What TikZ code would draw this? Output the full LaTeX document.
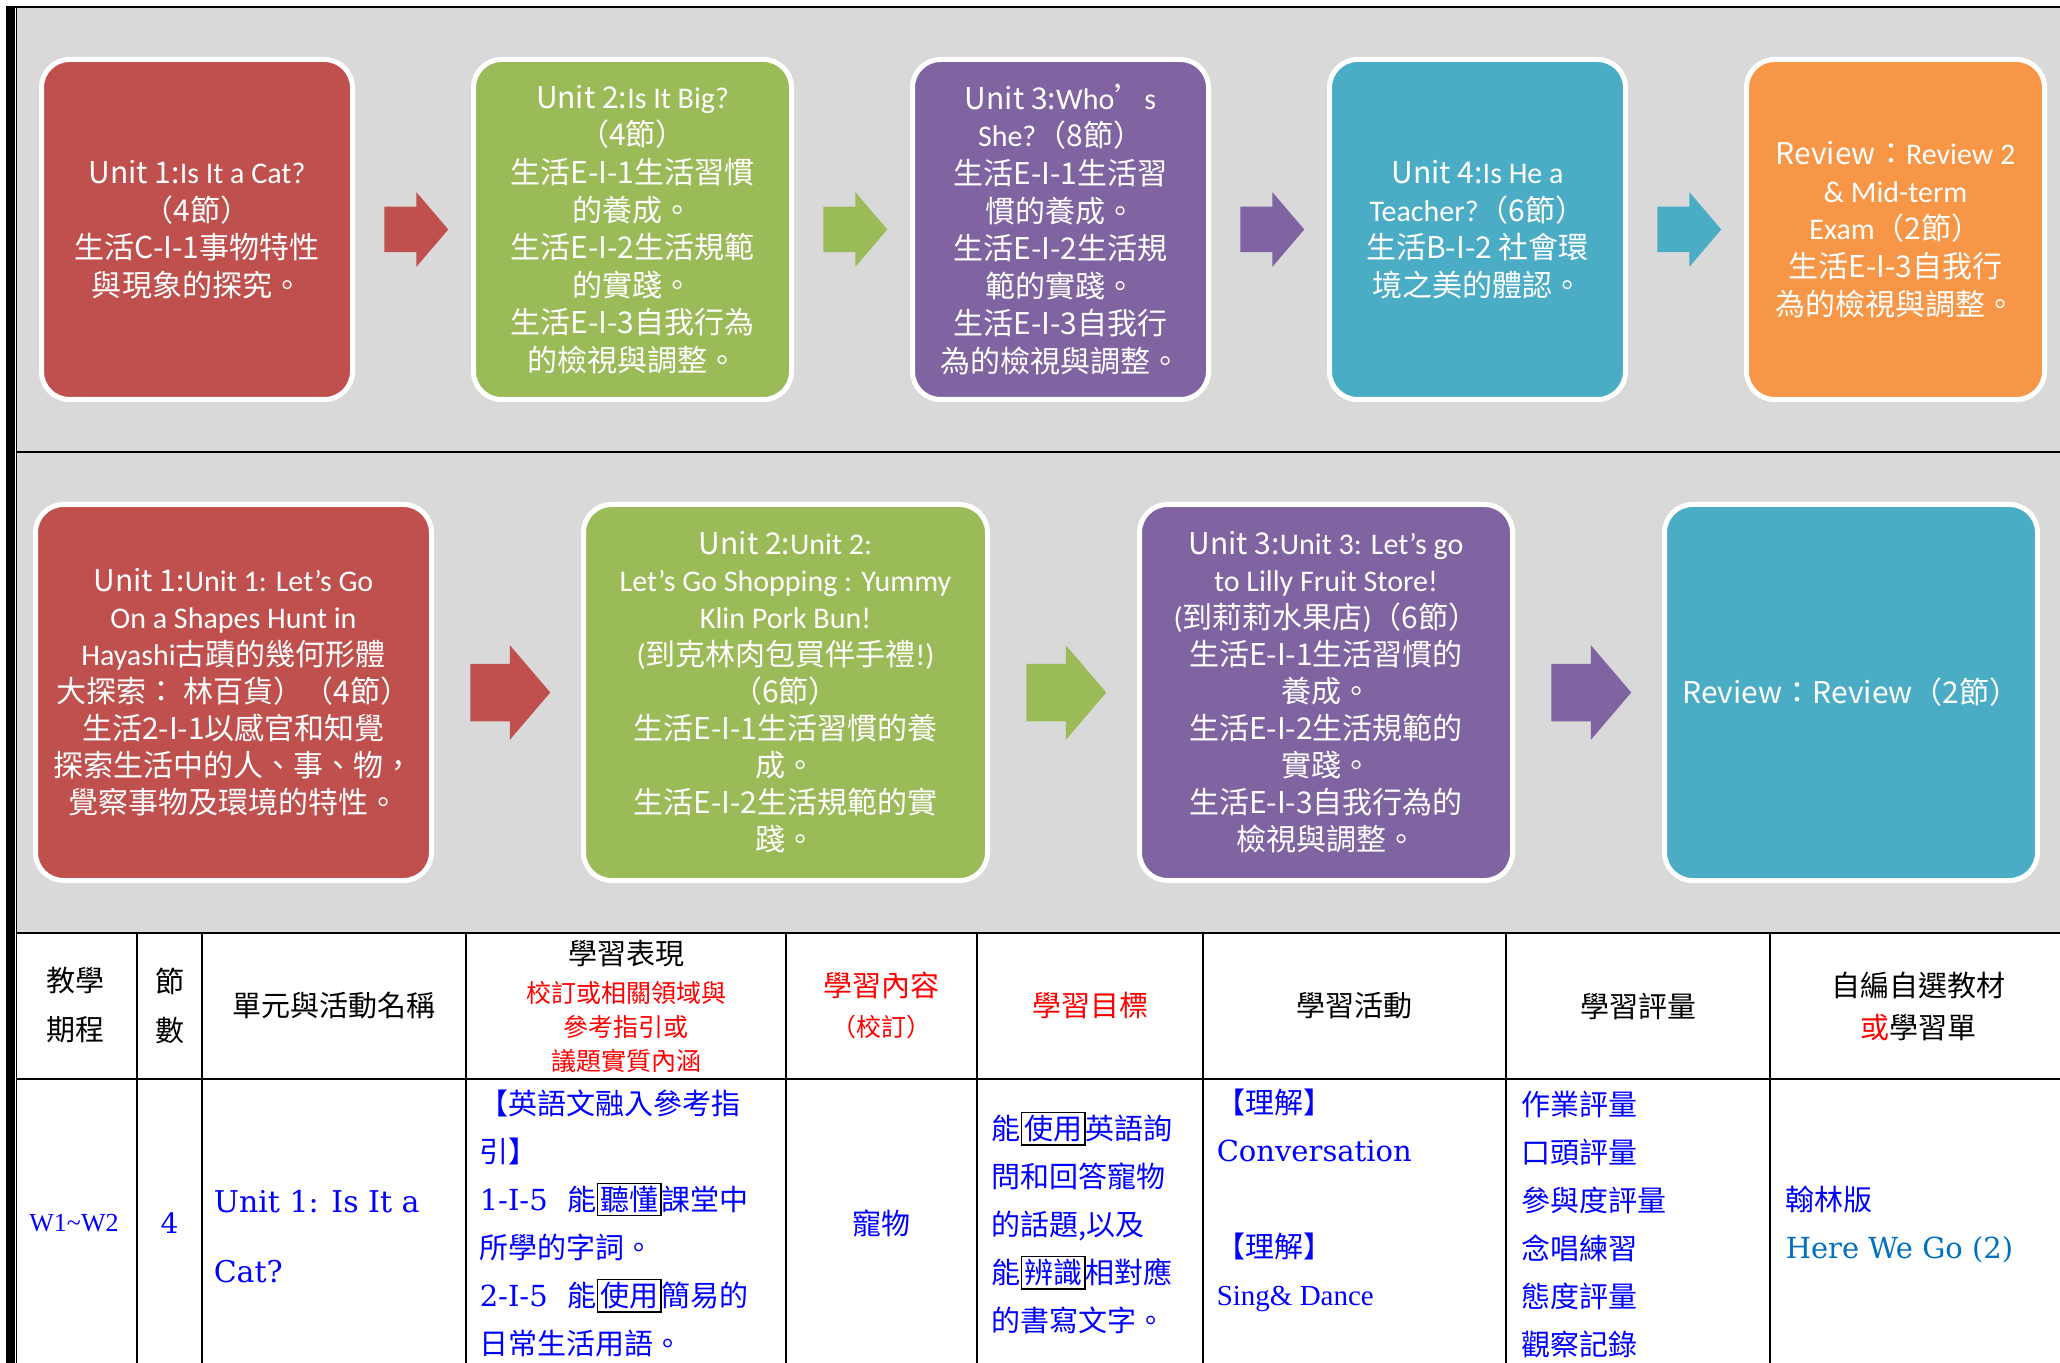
\documentclass[tikz,border=0pt]{standalone}
\usepackage{fontspec}
\setmainfont{Noto Sans CJK TC}
\newfontfamily\calibri{Carlito}
\newfontfamily\mingserif{DejaVu Serif}
\newfontfamily\timesfont{Liberation Serif}
\usetikzlibrary{positioning, calc, shapes.arrows}

\definecolor{unitred}{HTML}{C0504D}
\definecolor{unitgreen}{HTML}{9BBB59}
\definecolor{unitpurple}{HTML}{8064A2}
\definecolor{unitblue}{HTML}{4BACC6}
\definecolor{unitorange}{HTML}{F79646}
\definecolor{panelgray}{HTML}{D9D9D9}
\definecolor{txtblue}{HTML}{0000FF}
\definecolor{txtred}{HTML}{FF0000}
\definecolor{bookblue}{HTML}{0070C0}

% boxed key word inside the table
\newcommand{\kw}[1]{{\setlength{\fboxsep}{1pt}\setlength{\fboxrule}{0.8pt}\color{black}\fbox{\color{txtblue}#1}}}

\begin{document}
\begin{tikzpicture}[
    x=0.5pt, y=-0.5pt,
    line width=0.75pt,
    unitbox/.style={draw=white, line width=2.5pt, rounded corners=14pt, text=white,
                    align=center, inner sep=0pt, minimum height=170pt,
                    font=\fontsize{15pt}{18.8pt}\selectfont},
    bigbox/.style={unitbox, minimum height=188pt,
                   font=\fontsize{15pt}{18.5pt}\selectfont},
    flow/.style={single arrow, draw=none, anchor=tail, inner xsep=0pt, inner ysep=11pt,
                 minimum height=32pt, minimum width=0pt,
                 single arrow head extend=7.25pt, single arrow tip angle=99},
    bigflow/.style={flow, inner ysep=14pt, minimum height=40pt,
                    single arrow head extend=9.25pt},
    head/.style={align=center, inner sep=0pt, font=\fontsize{14.5pt}{24.5pt}\selectfont},
    cell/.style={anchor=west, align=left, text=txtblue, inner sep=0pt,
                 font=\fontsize{14.5pt}{24pt}\selectfont}
]
\useasboundingbox (0,0) rectangle (2060,1363);

% 0) Page frame and gray panel.
\fill[white] (0,0) rectangle (2060,1363);
\fill[panelgray] (17,7) rectangle (2060,933);
\draw (6,7) -- (2060,7);
\fill[black] (6,7) rectangle (14.5,1363);
\draw[line width=0.5pt] (16.5,7) -- (16.5,1363);
\draw (17,452) -- (2060,452);

% 1) First semester units.
\node[unitbox, fill=unitred, minimum width=155.5pt] (u1) at (197,229.5)
   {Unit 1:{\calibri Is It a Cat?}\\（4節）\\生活C-I-1事物特性\\與現象的探究。};
\node[unitbox, fill=unitgreen, minimum width=159pt, right=58pt of u1] (u2)
   {Unit 2:{\calibri Is It Big?}\\（4節）\\生活E-I-1生活習慣\\的養成。\\生活E-I-2生活規範\\的實踐。\\生活E-I-3自我行為\\的檢視與調整。};
\node[unitbox, fill=unitpurple, minimum width=148pt, right=58pt of u2] (u3)
   {Unit 3:{\calibri Who}’{\calibri s}\\{\calibri She?}（8節）\\生活E-I-1生活習\\慣的養成。\\生活E-I-2生活規\\範的實踐。\\生活E-I-3自我行\\為的檢視與調整。};
\node[unitbox, fill=unitblue, minimum width=148pt, right=58pt of u3] (u4)
   {Unit 4:{\calibri Is He a}\\{\calibri Teacher?}（6節）\\生活B-I-2 社會環\\境之美的體認。};
\node[unitbox, fill=unitorange, minimum width=149pt, right=58pt of u4] (u5)
   {Review：{\calibri Review 2}\\{\calibri \& Mid-term}\\{\calibri Exam}（2節）\\生活E-I-3自我行\\為的檢視與調整。};

% Block arrows between the units.
\node[flow, fill=unitred]    (a12) at ($(u1.east)!0.5!(u2.west)+(-29.5,0)$) {};
\node[flow, fill=unitgreen]  (a23) at ($(u2.east)!0.5!(u3.west)+(-29.5,0)$) {};
\node[flow, fill=unitpurple] (a34) at ($(u3.east)!0.5!(u4.west)+(-29.5,0)$) {};
\node[flow, fill=unitblue]   (a45) at ($(u4.east)!0.5!(u5.west)+(-29.5,0)$) {};

% 2) Second semester units.
\node[bigbox, fill=unitred, minimum width=198pt] (v1) at (233.5,692.5)
   {Unit 1:{\calibri Unit 1: Let’s Go}\\{\calibri On a Shapes Hunt in}\\{\calibri Hayashi}古蹟的幾何形體\\大探索： 林百貨）（4節）\\生活2-I-1以感官和知覺\\探索生活中的人、事、物，\\覺察事物及環境的特性。};
\node[bigbox, fill=unitgreen, minimum width=202pt, right=73.5pt of v1] (v2)
   {Unit 2:{\calibri Unit 2:}\\{\calibri Let’s Go Shopping : Yummy}\\{\calibri Klin Pork Bun!}\\{\calibri (}到克林肉包買伴手禮{\calibri !)}\\（6節）\\生活E-I-1生活習慣的養\\成。\\生活E-I-2生活規範的實\\踐。};
\node[bigbox, fill=unitpurple, minimum width=186.5pt, right=73.5pt of v2] (v3)
   {Unit 3:{\calibri Unit 3: Let’s go}\\{\calibri to Lilly Fruit Store!}\\{\calibri (}到莉莉水果店{\calibri )}（6節）\\生活E-I-1生活習慣的\\養成。\\生活E-I-2生活規範的\\實踐。\\生活E-I-3自我行為的\\檢視與調整。};
\node[bigbox, fill=unitblue, minimum width=186.5pt, right=73.5pt of v3] (v4)
   {Review：Review（2節）};

\node[bigflow, fill=unitred]    (b12) at ($(v1.east)!0.5!(v2.west)+(-38,0)$) {};
\node[bigflow, fill=unitgreen]  (b23) at ($(v2.east)!0.5!(v3.west)+(-38,0)$) {};
\node[bigflow, fill=unitpurple] (b34) at ($(v3.east)!0.5!(v4.west)+(-38,0)$) {};

% 3) Table grid.
\draw (17,933) -- (2060,933);
\draw (17,1079) -- (2060,1079);
\foreach \cx in {137,202,466,786,977,1203,1506,1770} {
    \draw (\cx,933) -- (\cx,1363);
}

% Header row.
\node[head] (h1) at (75.5,1005.5) {教學\\期程};
\node[head] (h2) at (169.5,1005.5) {節\\數};
\node[head] (h3) at (334,1006) {單元與活動名稱};
\node[head] (h4) at (626,954) {學習表現};
\node[head, text=txtred, font=\fontsize{12.5pt}{17pt}\selectfont] (h4b) at (626,1027)
   {校訂或相關領域與\\參考指引或\\議題實質內涵};
\node[head, text=txtred] (h5) at (881.5,985) {學習內容};
\node[head, text=txtred, font=\fontsize{12.5pt}{17pt}\selectfont] (h5b) at (881.5,1027) {（校訂）};
\node[head, text=txtred] (h6) at (1090,1006) {學習目標};
\node[head] (h7) at (1354.5,1006) {學習活動};
\node[head] (h8) at (1638,1006) {學習評量};
\node[head, font=\fontsize{14.5pt}{21pt}\selectfont] (h9) at (1918,1006)
   {自編自選教材\\{\color{txtred}或}學習單};

% First body row.
\node[cell, anchor=center, font=\timesfont\fontsize{13pt}{24pt}\selectfont] (week) at (74,1223) {W1\textasciitilde W2};
\node[cell, anchor=center, font=\mingserif\fontsize{14pt}{24pt}\selectfont] (count) at (169.5,1223) {4};
\node[cell, font=\mingserif\fontsize{15pt}{35pt}\selectfont] (unitname) at (213,1237)
   {Unit 1: Is It a\\Cat?};
\node[cell] (perf) at (479,1223.5)
   {【英語文融入參考指\\引】\\{\mingserif 1-I-5}\hspace{10pt}能\kw{聽懂}課堂中\\所學的字詞。\\{\mingserif 2-I-5}\hspace{10pt}能\kw{使用}簡易的\\日常生活用語。};
\node[cell, anchor=center] (content) at (881.5,1223) {寵物};
\node[cell] (goal) at (991,1223)
   {能\kw{使用}英語詢\\問和回答寵物\\的話題,以及\\能\kw{辨識}相對應\\的書寫文字。};
\node[cell] (act) at (1216,1200.5)
   {【理解】\\{\mingserif Conversation}\\[24pt]【理解】\\{\timesfont Sing\& Dance}};
\node[cell] (assess) at (1521,1224)
   {作業評量\\口頭評量\\參與度評量\\念唱練習\\態度評量\\觀察記錄};
\node[cell] (book) at (1785,1224)
   {翰林版\\{\mingserif\color{bookblue}Here We Go (2)}};

\end{tikzpicture}
\end{document}
